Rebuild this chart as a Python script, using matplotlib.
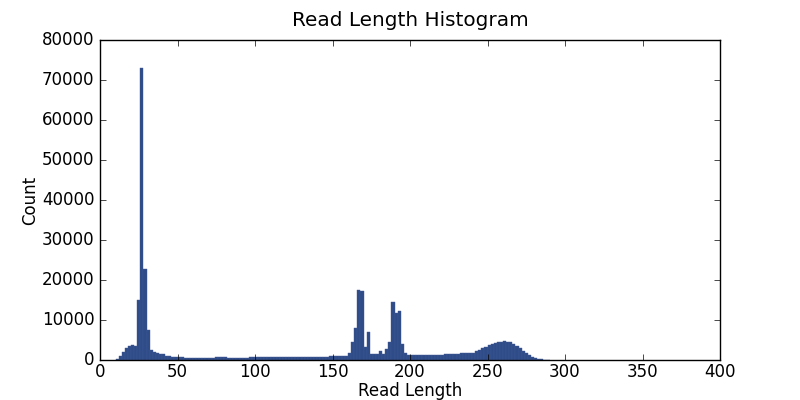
import numpy as np
import matplotlib
matplotlib.use("Agg")
import matplotlib.pyplot as plt

# read lengths binned in steps of 2, from 10 to 290
bin_width = 2
bin_left = list(range(10, 290, bin_width))
counts = [
    300, 1000, 2000, 3100, 3600, 3800, 3400, 15000, 73000, 22700,   # 10-28
    7500, 2400, 2100, 1800, 1500, 1600, 1100, 900, 800, 800,         # 30-48
    700, 700, 600, 600, 550, 500, 500, 500, 500, 500,                # 50-68
    550, 600, 700, 700, 700, 650, 550, 500, 500, 500,                # 70-88
    500, 500, 550, 700, 800, 750, 700, 700, 700, 650,                # 90-108
    650, 650, 700, 700, 700, 700, 700, 700, 700, 700,                # 110-128
    700, 700, 700, 700, 700, 700, 700, 700, 750, 900,                # 130-148
    1000, 1000, 1000, 1000, 1100, 1700, 4600, 7900, 17500, 17300,    # 150-168
    3300, 6900, 1500, 1400, 1400, 2200, 1600, 2700, 4600, 14600,     # 170-188
    11800, 12300, 4000, 1700, 1200, 1200, 1250, 1250, 1250, 1250,    # 190-208
    1250, 1250, 1250, 1250, 1250, 1250, 1500, 1500, 1500, 1500,      # 210-228
    1500, 1800, 1800, 1800, 1800, 1800, 2300, 2600, 2900, 3300,      # 230-248
    3700, 4000, 4200, 4400, 4600, 4650, 4600, 4400, 4000, 3500,      # 250-268
    2900, 2300, 1700, 1200, 800, 500, 300, 150, 60, 20,              # 270-288
]

plt.style.use("classic")
plt.rcParams["xtick.major.pad"] = 2
plt.rcParams["ytick.major.pad"] = 4
fig = plt.figure(figsize=(8, 4), dpi=100, facecolor="white")
ax = fig.add_subplot(111)

ax.bar(bin_left, counts, width=bin_width, align="edge",
       color="#2f4b88", edgecolor="#3f5a94", linewidth=0.3)

ax.set_xlim(0, 400)
ax.set_ylim(0, 80000)
ax.set_xticks(np.arange(0, 401, 50))
ax.set_yticks(np.arange(0, 80001, 10000))
ax.set_xlabel("Read Length", labelpad=1)
ax.set_ylabel("Count", labelpad=2)
ax.set_title("Read Length Histogram", pad=10)

fig.savefig("out.png", dpi=100, facecolor="white")
